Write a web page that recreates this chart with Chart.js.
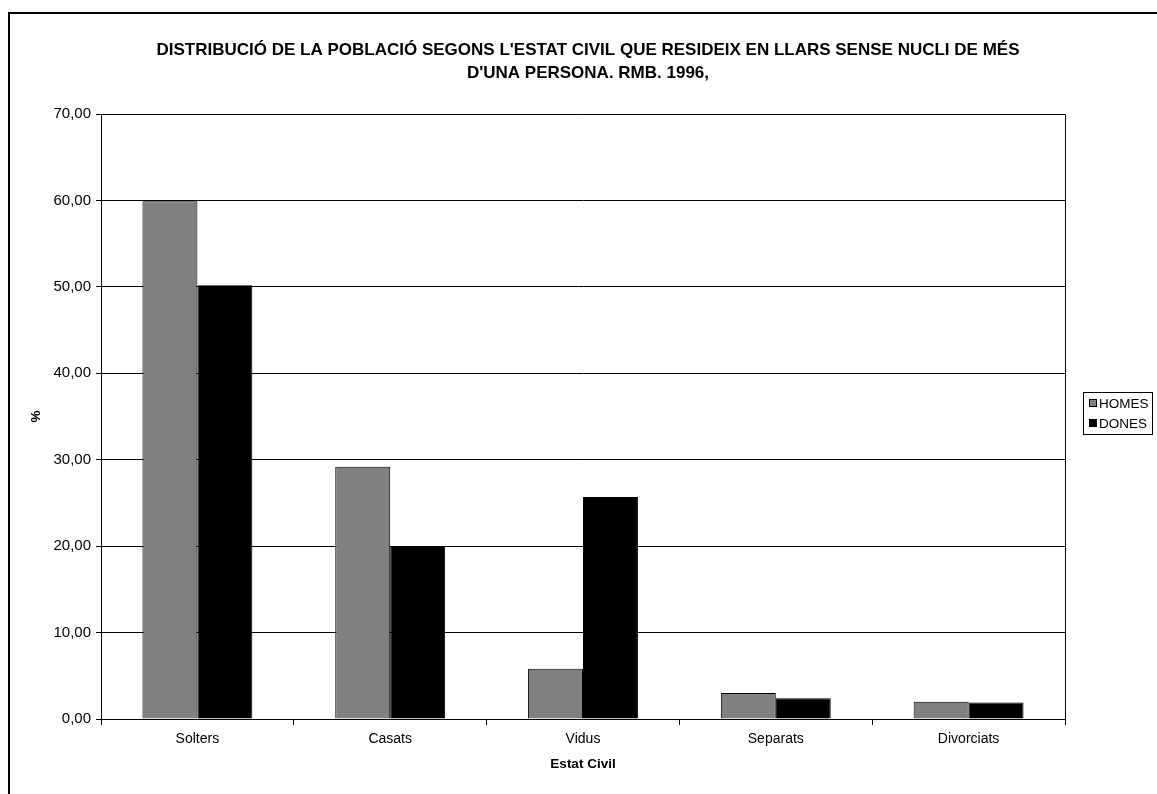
<!DOCTYPE html>
<html>
<head>
<meta charset="utf-8">
<script src="https://cdn.jsdelivr.net/npm/chart.js@4.4.1/dist/chart.umd.min.js"></script>
<style>
  body { margin: 0; background: #fff; }
  canvas { display: block; }
</style>
</head>
<body>
<canvas id="myChart" width="1157" height="794"></canvas>
<script>
    // Dades del gràfic
    const categories = ['Solters', 'Casats', 'Vidus', 'Separats', 'Divorciats'];
    const homes = [59.9, 29.2, 5.8, 3.0, 2.0];
    const dones = [50.2, 19.9, 25.7, 2.4, 1.9];
    const titleLines = [
        "DISTRIBUCIÓ DE LA POBLACIÓ SEGONS L'ESTAT CIVIL QUE RESIDEIX EN LLARS SENSE NUCLI DE MÉS",
        "D'UNA PERSONA. RMB. 1996,"
    ];
    const FONT = "Arial, 'Liberation Sans', sans-serif";

    // Marc, títol, vora de l'àrea i llegenda dibuixats a mà
    const excelLook = {
        id: 'excelLook',
        beforeDraw(chart) {
            const c = chart.ctx;
            c.save();
            c.fillStyle = '#fff';
            c.fillRect(0, 0, chart.width, chart.height);
            c.restore();
        },
        afterDraw(chart) {
            const c = chart.ctx;
            const a = chart.chartArea;
            c.save();
            // marc exterior
            c.strokeStyle = '#000';
            c.lineWidth = 2;
            c.strokeRect(9, 13, chart.width + 20, chart.height + 20);
            // vora de l'àrea de traçat
            c.lineWidth = 1;
            c.beginPath();
            c.moveTo(Math.round(a.left) + 0.5, Math.round(a.top) + 0.5);
            c.lineTo(Math.round(a.right) + 0.5, Math.round(a.top) + 0.5);
            c.lineTo(Math.round(a.right) + 0.5, Math.round(a.bottom) + 0.5);
            c.stroke();
            // títol
            c.fillStyle = '#000';
            c.font = 'bold 17px ' + FONT;
            c.textAlign = 'center';
            c.textBaseline = 'middle';
            c.fillText(titleLines[0], 588, 50);
            c.fillText(titleLines[1], 588, 73);
            // llegenda
            c.strokeRect(1083.5, 392.5, 69, 42);
            c.font = '13.5px ' + FONT;
            c.textAlign = 'left';
            chart.data.datasets.forEach((ds, i) => {
                const y = 403 + i * 20;
                c.fillStyle = ds.backgroundColor;
                c.fillRect(1089, y - 4, 8, 8);
                c.strokeStyle = '#000';
                c.strokeRect(1089.5, y - 3.5, 7, 7);
                c.fillStyle = '#000';
                c.fillText(ds.label, 1099, y + 1);
            });
            c.restore();
        }
    };

    const ctx = document.getElementById('myChart').getContext('2d');
    const myChart = new Chart(ctx, {
        type: 'bar',
        data: {
            labels: categories,
            datasets: [
                {
                    label: 'HOMES',
                    data: homes,
                    backgroundColor: '#808080',
                    borderColor: '#000',
                    borderWidth: 1
                },
                {
                    label: 'DONES',
                    data: dones,
                    backgroundColor: '#000000',
                    borderColor: '#000',
                    borderWidth: 1
                }
            ]
        },
        options: {
            responsive: false,
            animation: false,
            devicePixelRatio: 1,
            layout: { padding: { top: 114, right: 92, bottom: 0, left: 0 } },
            datasets: {
                bar: { categoryPercentage: 0.57, barPercentage: 1.0 }
            },
            plugins: {
                legend: { display: false },
                title: { display: false },
                tooltip: { enabled: false }
            },
            scales: {
                x: {
                    afterFit: (s) => { s.height = 75; },
                    grid: {
                        offset: true,
                        drawOnChartArea: false,
                        drawTicks: true,
                        tickLength: 6,
                        tickColor: '#000'
                    },
                    border: { display: true, color: '#000', width: 1 },
                    ticks: {
                        color: '#000',
                        font: { family: FONT, size: 14 },
                        padding: 6,
                        maxRotation: 0
                    },
                    title: {
                        display: true,
                        text: 'Estat Civil',
                        color: '#000',
                        font: { family: FONT, size: 13.5, weight: 'bold' },
                        padding: { top: 0, bottom: 22 }
                    }
                },
                y: {
                    min: 0,
                    max: 70,
                    afterFit: (s) => { s.width = 101; },
                    grid: {
                        color: '#000',
                        lineWidth: 1,
                        drawTicks: true,
                        tickLength: 5,
                        tickColor: '#000'
                    },
                    border: { display: true, color: '#000', width: 1 },
                    ticks: {
                        stepSize: 10,
                        color: '#000',
                        font: { family: FONT, size: 15 },
                        padding: 5,
                        callback: (v) => v.toFixed(2).replace('.', ',')
                    },
                    title: {
                        display: true,
                        text: '%',
                        color: '#000',
                        font: { family: FONT, size: 13.5, weight: 'bold' },
                        padding: { top: 28, bottom: 0 }
                    }
                }
            }
        },
        plugins: [excelLook]
    });
</script>
</body>
</html>
